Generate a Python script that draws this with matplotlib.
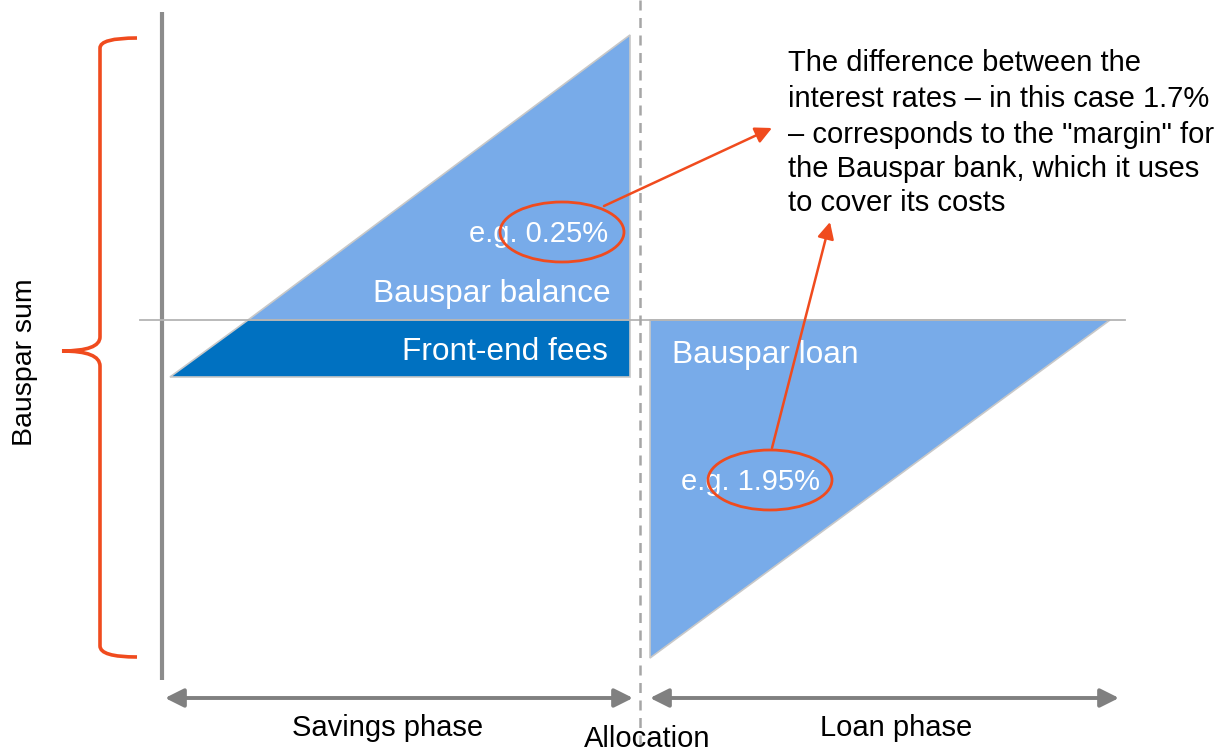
import matplotlib as mpl
mpl.use('Agg')
import matplotlib.pyplot as plt
from matplotlib.patches import Polygon, Ellipse, PathPatch, FancyArrowPatch
from matplotlib.path import Path

plt.rcParams['font.family'] = ['Liberation Sans', 'DejaVu Sans']

# diagram geometry (pixel-like units, y grows downward)
balance_tri = [(248, 320), (630, 35), (630, 320)]
fees_band = [(170, 377), (248, 320), (630, 320), (630, 377)]
loan_tri = [(650, 320), (1110, 320), (650, 658)]
axis_x = 162
axis_y = (12, 680)
base_y = 320
alloc_x = 640

phase_labels = ["Savings phase", "Allocation", "Loan phase"]
phase_x = [388, 647, 896]
phase_y = [728, 739, 728]
phase_spans = [(165, 633), (650, 1119)]

inner_labels = ["Bauspar balance", "Front-end fees", "e.g. 0.25%", "Bauspar loan", "e.g. 1.95%"]
inner_pos = [(611, 294), (608, 352), (608, 234), (672, 355), (820, 482)]
inner_ha = ["right", "right", "right", "left", "right"]
inner_size = [22.8, 22.8, 21, 22.8, 21]

rate_ellipses = [(562, 232), (770, 480)]

note_lines = ["The difference between the",
              "interest rates \u2013 in this case 1.7%",
              "\u2013 corresponds to the \"margin\" for",
              "the Bauspar bank, which it uses",
              "to cover its costs"]
note_y = [63, 99, 135, 169, 203]

light_blue = '#78abe9'
dark_blue = '#0071c1'
orange = '#f04b1e'
grey = '#808080'

fig = plt.figure(figsize=(12.2, 7.51), dpi=100)
ax = fig.add_axes([0, 0, 1, 1])
ax.set_xlim(0, 1220)
ax.set_ylim(751, 0)
ax.axis('off')

ax.add_patch(Polygon(balance_tri, closed=True, fc=light_blue, ec='#c8c8c8', lw=1.2, zorder=2))
ax.add_patch(Polygon(fees_band, closed=True, fc=dark_blue, ec='#c8c8c8', lw=1.2, zorder=2))
ax.add_patch(Polygon(loan_tri, closed=True, fc=light_blue, ec='#c8c8c8', lw=1.2, zorder=2))

# axes lines
ax.plot([axis_x, axis_x], axis_y, color='#8c8c8c', lw=3, solid_capstyle='butt', zorder=3)
ax.plot([140, 1125], [base_y, base_y], color='#b4b4b4', lw=1.3, zorder=3)
ax.plot([alloc_x, alloc_x], [0, 751], color='#a6a6a6', lw=1.8, ls=(0, (4, 3)), zorder=3)

# phase arrows
for x0, x1 in phase_spans:
    ax.add_patch(FancyArrowPatch((x0, 698), (x1, 698), arrowstyle='<|-|>,head_length=7,head_width=3.5',
                                 color=grey, lw=2.8, mutation_scale=1.6, shrinkA=0, shrinkB=0))

for lab, x, y in zip(phase_labels, phase_x, phase_y):
    ax.text(x, y, lab, fontsize=21, ha='center', va='center', color='black')

for lab, (x, y), ha, fs in zip(inner_labels, inner_pos, inner_ha, inner_size):
    ax.text(x, y, lab, fontsize=fs, ha=ha, va='center', color='white', zorder=4)

for cx, cy in rate_ellipses:
    ax.add_patch(Ellipse((cx, cy), 124, 60, fc='none', ec=orange, lw=2, zorder=5))

ax.add_patch(FancyArrowPatch((604, 206), (772, 128), arrowstyle='-|>,head_length=10,head_width=5',
                             color=orange, lw=1.8, shrinkA=0, shrinkB=0, zorder=5))
ax.add_patch(FancyArrowPatch((772, 448), (830, 222), arrowstyle='-|>,head_length=10,head_width=5',
                             color=orange, lw=1.8, shrinkA=0, shrinkB=0, zorder=5))

for line, y in zip(note_lines, note_y):
    ax.text(788, y, line, fontsize=21, ha='left', va='center', color='black')

# brace
verts = [(137, 38), (100, 38), (100, 48), (100, 48),
         (100, 337), (100, 351), (62, 351), (62, 351),
         (100, 351), (100, 366), (100, 366),
         (100, 646), (100, 657), (137, 657)]
codes = [Path.MOVETO, Path.CURVE3, Path.CURVE3, Path.LINETO,
         Path.LINETO, Path.CURVE3, Path.CURVE3, Path.LINETO,
         Path.CURVE3, Path.CURVE3, Path.LINETO,
         Path.LINETO, Path.CURVE3, Path.CURVE3]
ax.add_patch(PathPatch(Path(verts, codes), fc='none', ec=orange, lw=2.6, zorder=5))

ax.text(25, 362, "Bauspar sum", fontsize=20.5, rotation=90, ha='center', va='center', color='black')

fig.savefig('out.png', dpi=100)
